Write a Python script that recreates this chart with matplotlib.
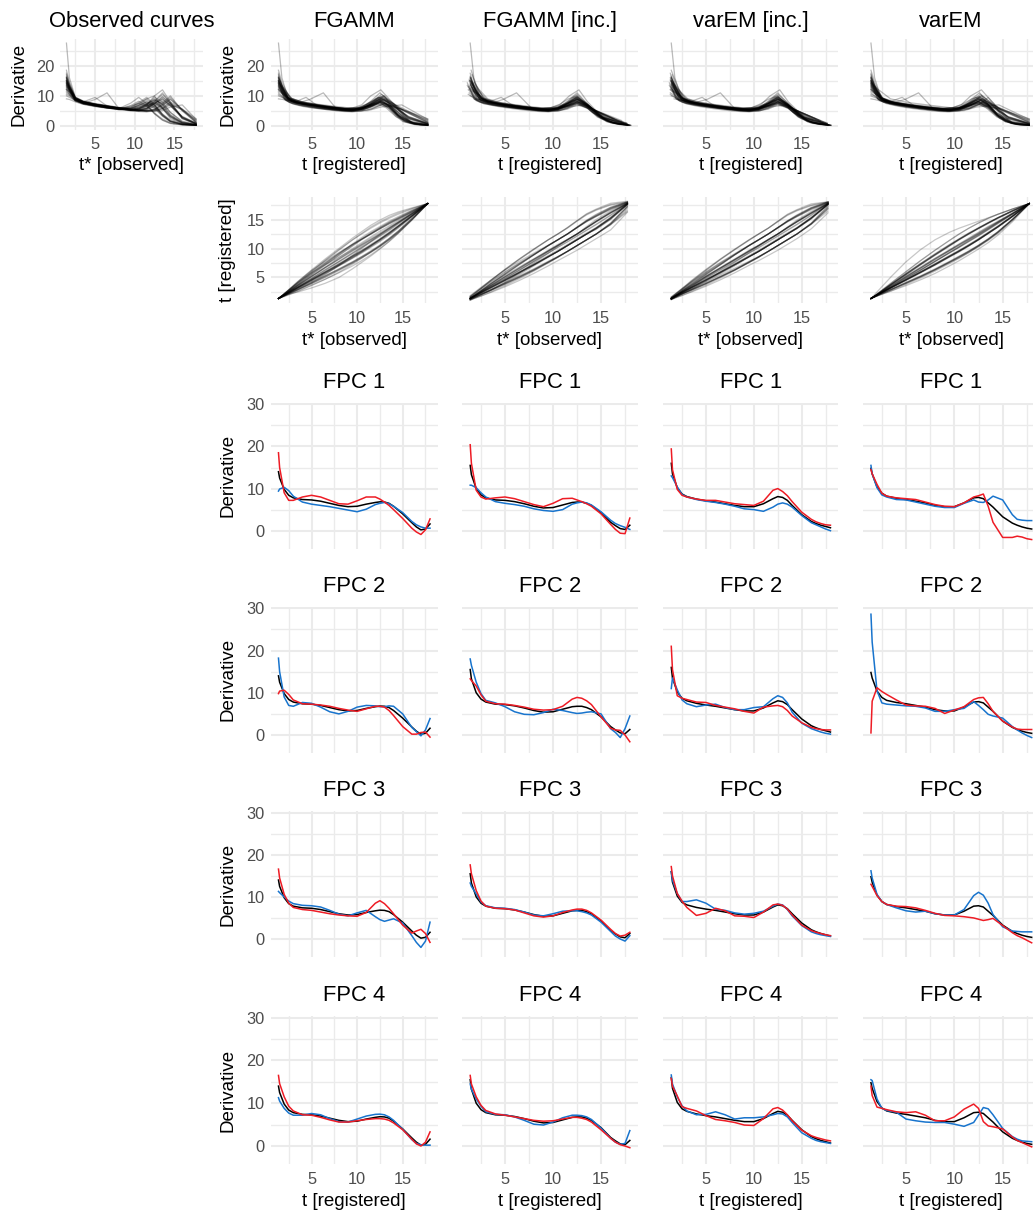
import numpy as np
import matplotlib
matplotlib.use("Agg")
import matplotlib.pyplot as plt

plt.rcParams["font.family"] = ["Liberation Sans", "DejaVu Sans"]

# ---------------------------------------------------------------- data
# observation ages (years) of the growth-velocity curves
obs_age = [1.375, 1.75, 2.5, 3.5, 5.0, 6.5, 8.0, 9.5, 10.5, 11.5, 12.5, 13.5, 14.5, 16.0, 17.75]

# growth velocity (derivative of height) per child
obs_velocity = [
    [16.0, 12.0, 8.8, 7.6, 6.8, 6.2, 5.7, 5.9, 6.8, 8.0, 6.3, 3.5, 1.6, 0.6, 0.3],
    [13.5, 11.5, 8.5, 7.5, 6.6, 6.0, 5.4, 5.5, 6.3, 7.2, 5.8, 3.2, 1.4, 0.5, 0.2],
    [12.0, 10.5, 8.2, 7.2, 6.4, 5.9, 5.6, 6.6, 7.5, 6.6, 4.3, 2.3, 1.1, 0.4, 0.2],
    [15.0, 12.8, 9.0, 7.8, 7.0, 6.3, 5.7, 5.4, 6.2, 7.4, 8.5, 6.0, 3.2, 1.0, 0.4],
    [17.0, 13.5, 9.3, 8.0, 7.2, 6.6, 6.0, 6.2, 7.5, 9.0, 7.0, 3.8, 1.7, 0.6, 0.3],
    [14.0, 11.8, 8.5, 7.5, 8.8, 11.0, 5.8, 5.2, 5.7, 6.5, 7.5, 6.0, 3.0, 0.9, 0.3],
    [14.5, 12.3, 9.0, 7.8, 6.8, 6.0, 5.8, 7.6, 9.5, 7.4, 4.1, 1.9, 0.8, 0.4, 0.2],
    [10.0, 9.5, 8.4, 7.5, 6.8, 6.1, 5.7, 6.0, 7.2, 9.0, 10.0, 5.8, 2.5, 0.8, 0.3],
    [9.0, 8.8, 8.0, 7.2, 6.6, 6.0, 5.4, 5.8, 6.8, 8.0, 6.8, 4.0, 2.0, 0.7, 0.3],
    [16.5, 13.5, 9.2, 8.0, 7.2, 6.6, 6.0, 5.4, 5.3, 5.8, 7.5, 9.5, 7.5, 3.0, 0.8],
    [14.0, 12.2, 8.8, 7.8, 7.0, 6.4, 5.8, 5.2, 5.0, 5.4, 6.8, 8.5, 7.0, 3.0, 0.9],
    [15.5, 12.8, 9.0, 8.0, 7.2, 6.6, 6.0, 5.5, 5.2, 5.0, 5.4, 7.0, 9.0, 5.2, 1.2],
    [27.5, 16.0, 9.5, 8.2, 7.4, 6.8, 6.2, 5.8, 6.0, 7.0, 10.0, 12.0, 8.0, 2.8, 0.7],
    [12.5, 11.3, 8.6, 7.6, 6.8, 6.2, 5.6, 5.4, 5.6, 6.5, 8.5, 7.5, 4.5, 1.6, 0.5],
    [13.0, 11.8, 8.8, 7.8, 7.0, 6.4, 5.9, 5.5, 5.3, 5.1, 5.2, 6.0, 8.0, 5.5, 1.8],
    [15.0, 13.0, 9.4, 8.2, 7.2, 6.5, 5.9, 5.3, 5.2, 5.8, 8.0, 10.5, 7.8, 2.7, 0.6],
    [11.0, 10.3, 8.4, 7.4, 6.6, 6.0, 5.5, 5.0, 4.8, 4.7, 5.0, 5.8, 7.5, 5.2, 2.0],
    [14.5, 12.8, 9.2, 8.0, 9.5, 6.6, 5.9, 5.4, 5.4, 6.0, 7.5, 9.0, 6.8, 2.5, 0.7],
    [16.0, 13.3, 9.2, 8.0, 7.1, 6.4, 5.8, 5.4, 5.6, 7.0, 9.5, 8.0, 4.5, 1.4, 0.4],
    [13.5, 12.0, 8.9, 7.9, 7.1, 6.5, 6.0, 5.5, 5.2, 5.0, 4.9, 5.1, 6.3, 7.0, 2.2],
    [12.8, 11.0, 8.6, 7.4, 6.7, 6.1, 5.6, 5.8, 6.9, 8.5, 6.8, 3.6, 1.5, 0.5, 0.2],
    [15.8, 13.0, 9.1, 7.9, 7.0, 6.4, 5.8, 5.5, 5.9, 6.8, 7.8, 5.8, 3.0, 1.0, 0.4],
    [13.2, 11.8, 8.9, 7.7, 6.9, 6.3, 5.7, 5.1, 5.0, 5.6, 7.4, 9.8, 7.4, 2.6, 0.7],
    [17.5, 14.2, 9.6, 8.3, 7.4, 6.8, 6.1, 5.6, 5.3, 5.1, 5.6, 7.6, 10.0, 5.0, 1.1],
    [11.5, 10.6, 8.5, 7.4, 6.6, 6.0, 5.7, 6.8, 8.2, 6.9, 4.0, 2.0, 0.9, 0.4, 0.2],
    [14.8, 12.6, 9.0, 7.7, 6.9, 6.2, 5.6, 5.3, 5.8, 7.3, 9.0, 7.0, 3.5, 1.1, 0.4],
    [12.0, 11.2, 8.7, 7.7, 6.9, 6.3, 5.8, 5.3, 5.1, 5.3, 6.4, 8.0, 6.6, 3.2, 1.0],
    [14.3, 12.4, 9.0, 7.9, 7.1, 6.5, 5.9, 5.4, 5.1, 5.0, 5.3, 6.6, 8.8, 5.6, 1.5],
    [15.2, 12.8, 9.0, 7.8, 7.0, 6.3, 5.7, 6.3, 7.8, 9.5, 7.2, 3.8, 1.6, 0.6, 0.3],
    [16.2, 13.6, 9.4, 8.1, 7.3, 6.6, 6.0, 5.4, 5.3, 6.0, 8.2, 11.0, 7.6, 2.4, 0.6],
    [10.5, 10.0, 8.4, 7.4, 6.7, 6.1, 5.5, 5.2, 5.5, 6.6, 8.0, 6.4, 3.4, 1.2, 0.5],
    [12.2, 11.4, 8.7, 7.7, 6.9, 6.3, 5.8, 5.3, 5.0, 4.8, 5.0, 5.6, 7.0, 5.6, 2.4],
    [14.2, 12.0, 8.8, 7.6, 6.8, 6.2, 5.6, 5.7, 6.5, 7.6, 6.2, 3.4, 1.5, 0.5, 0.2],
    [13.8, 12.2, 9.0, 7.8, 7.0, 6.4, 5.8, 5.3, 5.2, 5.7, 7.3, 9.0, 6.9, 2.9, 0.8],
    [18.5, 14.5, 9.4, 8.0, 7.2, 6.5, 5.9, 5.5, 5.8, 7.0, 8.8, 7.2, 3.8, 1.2, 0.4],
    [15.0, 12.9, 9.2, 8.0, 7.2, 6.6, 6.0, 5.5, 5.2, 5.0, 5.5, 7.2, 9.5, 5.4, 1.3],
]

# estimated time shifts h(t*) - t* per child, one table per method
shift_fgamm = [
    [0, 0.0, 0.1, 0.3, 0.5, 0.7, 0.8, 0.9, 1.0, 1.0, 1.0, 0.9, 0.7, 0.4, 0],
    [0, 0.0, 0.2, 0.3, 0.6, 0.8, 1.0, 1.1, 1.2, 1.2, 1.1, 1.0, 0.8, 0.5, 0],
    [0, 0.1, 0.3, 0.6, 1.0, 1.4, 1.7, 2.0, 2.1, 2.2, 2.1, 1.9, 1.6, 0.9, 0],
    [0, 0.0, 0.0, 0.1, 0.1, 0.2, 0.2, 0.3, 0.3, 0.3, 0.2, 0.2, 0.1, 0.1, 0],
    [0, 0.0, 0.2, 0.4, 0.7, 0.9, 1.1, 1.3, 1.4, 1.4, 1.3, 1.2, 1.0, 0.6, 0],
    [0, 0.0, 0.0, -0.1, -0.2, -0.2, -0.3, -0.3, -0.3, -0.3, -0.3, -0.3, -0.2, -0.1, 0],
    [0, 0.1, 0.4, 0.8, 1.3, 1.7, 2.0, 2.3, 2.4, 2.5, 2.4, 2.2, 1.8, 1.0, 0],
    [0, 0.0, 0.1, 0.1, 0.2, 0.3, 0.4, 0.5, 0.5, 0.5, 0.5, 0.4, 0.3, 0.2, 0],
    [0, 0.1, 0.4, 0.8, 1.2, 1.3, 1.3, 1.2, 1.1, 1.0, 0.9, 0.8, 0.6, 0.3, 0],
    [0, 0.0, -0.1, -0.3, -0.5, -0.7, -0.9, -1.1, -1.2, -1.2, -1.2, -1.1, -0.9, -0.5, 0],
    [0, 0.0, -0.1, -0.2, -0.4, -0.5, -0.6, -0.7, -0.8, -0.8, -0.8, -0.7, -0.6, -0.3, 0],
    [0, -0.1, -0.3, -0.6, -1.0, -1.4, -1.7, -2.0, -2.1, -2.2, -2.2, -2.0, -1.7, -1.0, 0],
    [0, 0.0, -0.1, -0.2, -0.4, -0.6, -0.8, -0.9, -1.0, -1.0, -1.0, -0.9, -0.7, -0.4, 0],
    [0, 0.0, 0.0, -0.1, -0.2, -0.3, -0.3, -0.4, -0.4, -0.4, -0.4, -0.4, -0.3, -0.2, 0],
    [0, -0.1, -0.4, -0.8, -1.3, -1.8, -2.2, -2.5, -2.6, -2.6, -2.5, -2.3, -1.9, -1.1, 0],
    [0, 0.0, -0.1, -0.2, -0.4, -0.6, -0.7, -0.8, -0.9, -0.9, -0.9, -0.8, -0.7, -0.4, 0],
    [0, -0.1, -0.2, -0.5, -0.9, -1.2, -1.5, -1.8, -1.9, -2.0, -2.0, -1.8, -1.5, -0.8, 0],
    [0, 0.0, -0.2, -0.3, -0.6, -0.8, -1.0, -1.2, -1.3, -1.3, -1.3, -1.2, -1.0, -0.5, 0],
    [0, 0.0, 0.0, 0.0, -0.1, -0.1, -0.2, -0.2, -0.2, -0.2, -0.2, -0.2, -0.1, -0.1, 0],
    [0, -0.1, -0.4, -1.0, -1.8, -2.5, -3.0, -3.0, -2.9, -2.8, -2.6, -2.3, -1.9, -1.1, 0],
    [0, 0.1, 0.3, 0.5, 0.8, 1.0, 1.1, 1.2, 1.1, 1.0, 0.9, 0.8, 0.6, 0.3, 0],
    [0, 0.1, 0.3, 0.6, 0.8, 0.7, 0.5, 0.3, 0.2, 0.1, 0.0, 0.0, 0.0, 0.0, 0],
    [0, 0.0, -0.1, -0.3, -0.5, -0.7, -0.9, -1.0, -1.1, -1.1, -1.0, -0.9, -0.7, -0.4, 0],
    [0, -0.1, -0.3, -0.6, -1.0, -1.3, -1.6, -1.8, -1.9, -1.9, -1.9, -1.8, -1.6, -0.9, 0],
    [0, 0.1, 0.3, 0.7, 1.1, 1.5, 1.8, 2.0, 2.0, 2.0, 1.9, 1.7, 1.4, 0.8, 0],
    [0, 0.0, 0.0, 0.1, 0.2, 0.2, 0.2, 0.1, 0.1, 0.0, 0.0, 0.0, 0.0, 0.0, 0],
    [0, 0.0, -0.2, -0.4, -0.7, -0.9, -1.0, -1.1, -1.1, -1.0, -1.0, -0.9, -0.7, -0.4, 0],
    [0, -0.2, -0.5, -0.9, -1.4, -1.8, -2.1, -2.2, -2.2, -2.1, -2.0, -1.8, -1.5, -0.8, 0],
    [0, 0.0, 0.1, 0.2, 0.4, 0.6, 0.8, 1.0, 1.1, 1.1, 1.1, 1.0, 0.8, 0.5, 0],
    [0, 0.0, -0.1, -0.2, -0.3, -0.5, -0.7, -0.8, -0.9, -1.0, -1.0, -1.0, -0.8, -0.5, 0],
    [0, -0.1, -0.3, -0.6, -0.9, -1.0, -0.9, -0.7, -0.5, -0.3, -0.1, 0.0, 0.0, 0.0, 0],
    [0, -0.1, -0.2, -0.4, -0.8, -1.2, -1.6, -1.9, -2.0, -2.1, -2.1, -2.0, -1.8, -1.1, 0],
    [0, 0.1, 0.3, 0.6, 0.9, 1.1, 1.2, 1.2, 1.1, 1.0, 0.9, 0.7, 0.5, 0.3, 0],
    [0, 0.0, -0.1, -0.2, -0.4, -0.6, -0.8, -0.9, -1.0, -1.0, -0.9, -0.8, -0.6, -0.3, 0],
    [0, 0.0, 0.1, 0.2, 0.2, 0.2, 0.1, 0.1, 0.0, 0.0, -0.1, -0.1, -0.1, 0.0, 0],
    [0, -0.1, -0.3, -0.6, -1.1, -1.5, -1.8, -2.0, -2.1, -2.1, -2.1, -2.0, -1.7, -1.0, 0],
]

shift_fgamm_inc = [
    [0.1, 0.1, 0.2, 0.4, 0.6, 0.8, 0.9, 1.0, 1.0, 1.0, 1.2, 1.3, 1.2, 1.0, 0.2],
    [0.0, 0.1, 0.2, 0.4, 0.6, 0.8, 0.9, 1.0, 1.0, 1.0, 1.1, 1.2, 1.1, 0.9, 0.2],
    [0.3, 0.4, 0.6, 0.9, 1.3, 1.6, 1.8, 2.0, 2.0, 2.1, 2.3, 2.4, 2.2, 1.6, 0.3],
    [0.0, 0.0, 0.1, 0.1, 0.1, 0.1, 0.1, 0.1, 0.1, 0.0, 0.0, 0.1, 0.2, 0.2, 0.0],
    [0.2, 0.2, 0.3, 0.5, 0.7, 0.8, 0.9, 1.0, 1.0, 1.0, 1.1, 1.2, 1.1, 0.8, 0.1],
    [0.0, 0.0, 0.0, 0.0, -0.2, -0.3, -0.2, 0.0, 0.0, 0.0, 0.0, 0.1, 0.1, 0.1, 0.0],
    [0.4, 0.5, 0.7, 1.0, 1.4, 1.7, 1.9, 2.0, 2.0, 2.0, 2.2, 2.3, 2.1, 1.5, 0.2],
    [0.0, 0.0, 0.0, 0.1, 0.1, 0.2, 0.2, 0.2, 0.2, 0.1, 0.0, 0.3, 0.5, 0.5, 0.1],
    [0.5, 0.6, 0.8, 1.0, 1.3, 1.3, 1.2, 1.1, 1.0, 1.0, 1.1, 1.1, 1.0, 0.7, 0.1],
    [0.0, -0.1, -0.2, -0.3, -0.5, -0.7, -0.8, -0.9, -1.0, -1.0, -1.0, -1.0, -1.2, -1.0, -0.2],
    [0.1, 0.0, -0.1, -0.2, -0.4, -0.6, -0.8, -0.9, -1.0, -1.0, -1.0, -1.0, -1.1, -0.9, -0.1],
    [-0.1, -0.2, -0.4, -0.7, -1.1, -1.4, -1.7, -1.9, -2.0, -2.0, -2.0, -2.0, -2.0, -1.7, -0.4],
    [0.0, 0.0, -0.1, -0.2, -0.4, -0.5, -0.6, -0.7, -0.8, -0.8, -0.8, -0.8, -0.9, -0.8, -0.2],
    [0.0, 0.0, 0.0, -0.1, -0.2, -0.2, -0.3, -0.3, -0.3, -0.4, -0.4, -0.4, -0.4, -0.3, -0.1],
    [-0.2, -0.3, -0.5, -0.8, -1.2, -1.5, -1.7, -1.8, -1.9, -2.0, -2.0, -2.0, -2.0, -1.8, -0.6],
    [0.0, 0.0, -0.1, -0.3, -0.5, -0.6, -0.8, -0.9, -1.0, -1.0, -1.0, -1.0, -1.1, -0.9, -0.2],
    [-0.1, -0.2, -0.4, -0.7, -1.0, -1.3, -1.6, -1.8, -1.9, -2.0, -2.0, -2.0, -2.0, -1.8, -1.2],
    [0.1, 0.0, -0.1, -0.2, -0.4, -0.6, -0.8, -0.9, -1.0, -1.0, -1.0, -1.0, -1.0, -0.8, -0.1],
    [0.0, 0.0, 0.0, 0.0, -0.1, -0.2, -0.2, -0.3, -0.3, -0.3, -0.3, -0.3, -0.3, -0.2, 0.0],
    [-0.3, -0.4, -0.7, -1.1, -1.6, -2.0, -2.3, -2.5, -2.6, -2.7, -2.8, -2.8, -2.8, -2.8, -1.5],
    [0.2, 0.3, 0.5, 0.7, 0.9, 1.0, 1.0, 1.0, 1.0, 1.0, 1.2, 1.4, 1.4, 1.1, 0.3],
    [0.0, 0.1, 0.2, 0.4, 0.4, 0.3, 0.2, 0.1, 0.0, 0.0, 0.0, 0.1, 0.2, 0.3, 0.1],
    [-0.1, -0.1, -0.2, -0.4, -0.6, -0.8, -0.9, -1.0, -1.0, -1.0, -1.0, -1.0, -1.0, -0.7, 0.0],
    [0.0, -0.1, -0.3, -0.6, -1.0, -1.4, -1.7, -1.9, -2.0, -2.0, -2.0, -2.0, -2.0, -1.6, -0.5],
    [0.3, 0.4, 0.6, 1.0, 1.4, 1.7, 1.9, 2.0, 2.0, 2.1, 2.3, 2.5, 2.3, 1.8, 0.4],
    [0.1, 0.1, 0.1, 0.1, 0.1, 0.0, 0.0, 0.0, 0.0, 0.0, 0.0, 0.1, 0.2, 0.2, 0.0],
    [-0.2, -0.3, -0.5, -0.7, -0.9, -1.0, -1.0, -1.0, -1.0, -1.0, -1.0, -1.0, -0.9, -0.6, -0.1],
    [-0.3, -0.4, -0.7, -1.0, -1.4, -1.7, -1.9, -2.0, -2.0, -2.0, -2.0, -2.0, -2.0, -1.9, -0.9],
    [0.0, 0.0, 0.1, 0.3, 0.5, 0.7, 0.9, 1.0, 1.0, 1.0, 1.1, 1.3, 1.3, 1.1, 0.3],
    [0.0, 0.0, -0.1, -0.2, -0.4, -0.6, -0.8, -0.9, -1.0, -1.0, -1.0, -1.0, -1.0, -0.8, -0.1],
    [-0.2, -0.3, -0.5, -0.7, -0.8, -0.7, -0.5, -0.3, -0.1, 0.0, 0.0, 0.1, 0.2, 0.2, 0.0],
    [-0.1, -0.2, -0.4, -0.6, -0.9, -1.2, -1.5, -1.7, -1.9, -2.0, -2.0, -2.0, -2.0, -1.9, -1.4],
    [0.3, 0.4, 0.6, 0.8, 1.0, 1.0, 1.0, 1.0, 1.0, 1.0, 1.1, 1.2, 1.1, 0.9, 0.2],
    [0.0, -0.1, -0.2, -0.3, -0.5, -0.7, -0.8, -0.9, -1.0, -1.0, -1.0, -1.0, -1.0, -0.7, 0.0],
    [0.1, 0.1, 0.2, 0.2, 0.2, 0.1, 0.1, 0.0, 0.0, 0.0, 0.0, 0.0, 0.1, 0.1, 0.0],
    [-0.1, -0.2, -0.4, -0.7, -1.1, -1.5, -1.8, -1.9, -2.0, -2.0, -2.0, -2.0, -2.0, -1.7, -0.6],
]

shift_varem_inc = [
    [-0.1, 0.0, 0.2, 0.4, 0.6, 0.7, 0.9, 1.0, 1.0, 1.0, 1.1, 1.2, 1.2, 1.0, 0.3],
    [0.0, 0.1, 0.2, 0.3, 0.5, 0.7, 0.9, 1.0, 1.0, 1.0, 1.1, 1.2, 1.1, 0.9, 0.2],
    [0.1, 0.2, 0.4, 0.8, 1.2, 1.6, 1.8, 1.9, 2.0, 2.0, 2.2, 2.3, 2.1, 1.5, 0.3],
    [0.0, 0.0, 0.0, 0.0, 0.1, 0.1, 0.1, 0.1, 0.0, 0.0, 0.0, 0.1, 0.1, 0.1, 0.0],
    [0.1, 0.1, 0.3, 0.5, 0.7, 0.8, 0.9, 1.0, 1.0, 1.0, 1.1, 1.1, 1.0, 0.8, 0.1],
    [0.0, 0.0, 0.0, 0.0, 0.1, 0.0, 0.0, 0.0, 0.0, 0.0, 0.0, 0.1, 0.1, 0.0, 0.0],
    [0.2, 0.3, 0.6, 1.0, 1.4, 1.7, 1.9, 2.0, 2.0, 2.0, 2.1, 2.2, 2.0, 1.4, 0.2],
    [0.0, 0.0, 0.1, 0.1, 0.2, 0.2, 0.2, 0.2, 0.1, 0.1, 0.0, 0.2, 0.4, 0.4, 0.1],
    [0.3, 0.4, 0.6, 0.8, 1.0, 1.1, 1.1, 1.1, 1.0, 1.0, 1.0, 1.1, 1.0, 0.7, 0.1],
    [0.0, 0.0, -0.1, -0.3, -0.5, -0.7, -0.8, -0.9, -1.0, -1.0, -1.0, -1.0, -1.1, -0.9, -0.2],
    [0.0, 0.0, -0.1, -0.2, -0.4, -0.6, -0.8, -0.9, -1.0, -1.0, -1.0, -1.0, -1.0, -0.8, -0.1],
    [-0.1, -0.1, -0.3, -0.6, -1.0, -1.4, -1.7, -1.9, -2.0, -2.0, -2.0, -2.0, -2.0, -1.6, -0.3],
    [0.0, 0.0, -0.1, -0.2, -0.3, -0.5, -0.6, -0.7, -0.8, -0.8, -0.8, -0.8, -0.9, -0.7, -0.1],
    [0.0, 0.0, 0.0, -0.1, -0.1, -0.2, -0.3, -0.3, -0.4, -0.4, -0.4, -0.4, -0.4, -0.3, 0.0],
    [-0.1, -0.2, -0.4, -0.7, -1.1, -1.4, -1.7, -1.8, -1.9, -2.0, -2.0, -2.0, -2.0, -1.8, -0.8],
    [0.0, 0.0, -0.1, -0.2, -0.4, -0.6, -0.8, -0.9, -1.0, -1.0, -1.0, -1.0, -1.0, -0.8, -0.2],
    [-0.1, -0.1, -0.3, -0.6, -1.0, -1.3, -1.6, -1.8, -1.9, -2.0, -2.0, -2.0, -2.0, -1.7, -1.0],
    [0.0, 0.0, -0.1, -0.2, -0.4, -0.6, -0.8, -0.9, -1.0, -1.0, -1.0, -1.0, -1.0, -0.8, -0.1],
    [0.0, 0.0, 0.0, -0.1, -0.1, -0.2, -0.2, -0.3, -0.3, -0.3, -0.3, -0.3, -0.3, -0.2, 0.0],
    [-0.2, -0.3, -0.6, -1.0, -1.5, -1.9, -2.2, -2.4, -2.6, -2.7, -2.8, -2.8, -2.8, -2.6, -1.6],
    [0.1, 0.2, 0.4, 0.6, 0.8, 0.9, 1.0, 1.0, 1.0, 1.0, 1.1, 1.3, 1.3, 1.1, 0.3],
    [0.0, 0.0, 0.1, 0.2, 0.3, 0.2, 0.1, 0.1, 0.0, 0.0, 0.0, 0.1, 0.2, 0.2, 0.1],
    [0.0, -0.1, -0.2, -0.3, -0.5, -0.7, -0.8, -0.9, -1.0, -1.0, -1.0, -1.0, -1.0, -0.7, -0.1],
    [-0.1, -0.2, -0.4, -0.7, -1.1, -1.4, -1.7, -1.9, -2.0, -2.0, -2.0, -2.0, -2.0, -1.7, -0.6],
    [0.2, 0.3, 0.5, 0.9, 1.3, 1.6, 1.8, 2.0, 2.0, 2.0, 2.2, 2.4, 2.2, 1.7, 0.3],
    [0.0, 0.0, 0.1, 0.1, 0.1, 0.1, 0.0, 0.0, 0.0, 0.0, 0.0, 0.1, 0.1, 0.1, 0.0],
    [-0.1, -0.2, -0.3, -0.5, -0.7, -0.9, -1.0, -1.0, -1.0, -1.0, -1.0, -1.0, -0.9, -0.6, -0.1],
    [-0.2, -0.3, -0.6, -0.9, -1.3, -1.6, -1.8, -1.9, -2.0, -2.0, -2.0, -2.0, -2.0, -1.8, -0.8],
    [0.1, 0.1, 0.2, 0.3, 0.5, 0.7, 0.9, 1.0, 1.0, 1.0, 1.1, 1.2, 1.2, 1.0, 0.2],
    [0.0, 0.0, -0.1, -0.2, -0.4, -0.6, -0.7, -0.9, -1.0, -1.0, -1.0, -1.0, -1.0, -0.8, -0.1],
    [-0.1, -0.2, -0.3, -0.5, -0.6, -0.5, -0.4, -0.2, -0.1, 0.0, 0.0, 0.1, 0.2, 0.2, 0.0],
    [-0.1, -0.2, -0.3, -0.5, -0.8, -1.1, -1.4, -1.7, -1.9, -2.0, -2.0, -2.0, -2.0, -1.8, -1.3],
    [0.2, 0.3, 0.5, 0.7, 0.9, 1.0, 1.0, 1.0, 1.0, 1.0, 1.1, 1.2, 1.1, 0.9, 0.2],
    [0.0, 0.0, -0.1, -0.3, -0.5, -0.7, -0.8, -0.9, -1.0, -1.0, -1.0, -1.0, -1.0, -0.7, -0.1],
    [0.0, 0.1, 0.1, 0.2, 0.2, 0.1, 0.1, 0.0, 0.0, 0.0, 0.0, 0.0, 0.1, 0.1, 0.0],
    [-0.1, -0.1, -0.3, -0.6, -1.0, -1.4, -1.7, -1.9, -2.0, -2.0, -2.0, -2.0, -2.0, -1.7, -0.5],
]

shift_varem = [
    [0, 0.0, 0.1, 0.3, 0.5, 0.7, 0.8, 0.9, 1.0, 1.0, 1.0, 0.9, 0.8, 0.5, 0],
    [0, 0.0, 0.2, 0.4, 0.6, 0.8, 1.0, 1.1, 1.1, 1.1, 1.0, 0.9, 0.8, 0.5, 0],
    [0, 0.1, 0.3, 0.6, 1.0, 1.4, 1.7, 1.9, 2.0, 2.0, 1.9, 1.7, 1.4, 0.8, 0],
    [0, 0.0, 0.0, 0.1, 0.1, 0.1, 0.2, 0.2, 0.2, 0.2, 0.2, 0.2, 0.1, 0.1, 0],
    [0, 0.0, 0.1, 0.3, 0.5, 0.7, 0.9, 1.0, 1.1, 1.1, 1.0, 0.9, 0.8, 0.5, 0],
    [0, 0.0, 0.0, -0.1, -0.1, -0.2, -0.2, -0.2, -0.2, -0.2, -0.2, -0.2, -0.1, -0.1, 0],
    [0, 0.3, 0.9, 1.7, 2.7, 3.3, 3.5, 3.3, 3.0, 2.6, 2.2, 1.8, 1.4, 0.8, 0],
    [0, 0.0, 0.0, 0.1, 0.2, 0.2, 0.3, 0.3, 0.3, 0.3, 0.3, 0.3, 0.2, 0.1, 0],
    [0, 0.0, 0.2, 0.4, 0.6, 0.8, 0.9, 1.0, 1.0, 1.0, 0.9, 0.8, 0.7, 0.4, 0],
    [0, 0.0, -0.1, -0.2, -0.4, -0.6, -0.8, -0.9, -1.0, -1.0, -1.0, -0.9, -0.8, -0.5, 0],
    [0, 0.0, -0.1, -0.2, -0.4, -0.5, -0.7, -0.8, -0.9, -0.9, -0.9, -0.8, -0.7, -0.4, 0],
    [0, -0.1, -0.2, -0.5, -0.8, -1.2, -1.5, -1.7, -1.8, -1.9, -1.9, -1.8, -1.6, -1.0, 0],
    [0, 0.0, -0.1, -0.2, -0.3, -0.5, -0.6, -0.7, -0.8, -0.8, -0.8, -0.7, -0.6, -0.4, 0],
    [0, 0.0, 0.0, -0.1, -0.1, -0.2, -0.2, -0.3, -0.3, -0.3, -0.3, -0.3, -0.2, -0.1, 0],
    [0, -0.1, -0.2, -0.5, -0.9, -1.3, -1.6, -1.8, -1.9, -2.0, -2.0, -1.9, -1.6, -1.0, 0],
    [0, 0.0, -0.1, -0.2, -0.4, -0.6, -0.7, -0.8, -0.9, -0.9, -0.9, -0.8, -0.7, -0.4, 0],
    [0, -0.1, -0.2, -0.5, -0.9, -1.3, -1.6, -1.8, -1.9, -2.0, -2.0, -1.9, -1.7, -1.0, 0],
    [0, 0.0, -0.1, -0.2, -0.4, -0.6, -0.8, -0.9, -1.0, -1.0, -1.0, -0.9, -0.8, -0.5, 0],
    [0, 0.0, 0.0, -0.1, -0.1, -0.2, -0.2, -0.2, -0.3, -0.3, -0.3, -0.2, -0.2, -0.1, 0],
    [0, -0.1, -0.4, -0.8, -1.4, -1.9, -2.3, -2.5, -2.6, -2.6, -2.6, -2.5, -2.2, -1.4, 0],
    [0, 0.0, 0.2, 0.4, 0.7, 0.9, 1.1, 1.2, 1.2, 1.2, 1.1, 1.0, 0.8, 0.5, 0],
    [0, 0.0, 0.1, 0.2, 0.3, 0.3, 0.3, 0.2, 0.2, 0.1, 0.1, 0.1, 0.1, 0.0, 0],
    [0, 0.0, -0.1, -0.3, -0.5, -0.7, -0.9, -1.0, -1.1, -1.1, -1.0, -0.9, -0.8, -0.5, 0],
    [0, -0.1, -0.3, -0.6, -1.0, -1.4, -1.7, -1.9, -2.0, -2.0, -2.0, -1.9, -1.7, -1.0, 0],
    [0, 0.1, 0.3, 0.6, 1.0, 1.4, 1.7, 1.9, 2.0, 2.0, 1.9, 1.7, 1.4, 0.8, 0],
    [0, 0.0, 0.0, 0.0, 0.1, 0.1, 0.1, 0.1, 0.1, 0.1, 0.0, 0.0, 0.0, 0.0, 0],
    [0, 0.0, -0.1, -0.3, -0.5, -0.7, -0.8, -0.9, -1.0, -1.0, -1.0, -0.9, -0.8, -0.5, 0],
    [0, -0.1, -0.4, -0.8, -1.2, -1.6, -1.9, -2.1, -2.2, -2.2, -2.1, -2.0, -1.7, -1.0, 0],
    [0, 0.0, 0.1, 0.3, 0.5, 0.7, 0.9, 1.0, 1.1, 1.1, 1.0, 0.9, 0.8, 0.5, 0],
    [0, 0.0, -0.1, -0.2, -0.4, -0.6, -0.7, -0.8, -0.9, -1.0, -1.0, -0.9, -0.8, -0.5, 0],
    [0, 0.0, -0.1, -0.2, -0.3, -0.3, -0.3, -0.2, -0.2, -0.1, -0.1, -0.1, 0.0, 0.0, 0],
    [0, -0.1, -0.3, -0.6, -1.0, -1.4, -1.7, -1.9, -2.1, -2.2, -2.2, -2.1, -1.9, -1.2, 0],
    [0, 0.1, 0.2, 0.4, 0.7, 0.9, 1.0, 1.1, 1.1, 1.0, 1.0, 0.9, 0.7, 0.4, 0],
    [0, 0.0, -0.1, -0.2, -0.4, -0.6, -0.8, -0.9, -0.9, -1.0, -0.9, -0.8, -0.7, -0.4, 0],
    [0, 0.0, 0.0, 0.1, 0.1, 0.1, 0.1, 0.1, 0.0, 0.0, 0.0, 0.0, 0.0, 0.0, 0],
    [0, -0.1, -0.3, -0.6, -1.0, -1.4, -1.7, -1.9, -2.0, -2.1, -2.1, -2.0, -1.8, -1.1, 0],
]

# registered time grid of the mean / FPC effect curves
fpc_age = [1.375, 1.5, 2, 2.5, 3, 4, 5, 6, 7, 8, 9, 10, 11, 12, 12.5, 13, 13.5, 14,
           15, 16, 16.5, 17, 17.5, 18]

mean_fgamm = [14.0, 12.5, 9.8, 8.4, 7.8, 7.4, 7.3, 7.0, 6.5, 6.0, 5.7, 5.8, 6.3, 6.7, 6.85, 6.8, 6.5, 5.8, 4.0, 1.9, 0.9, 0.2, 0.4, 1.6]
plus_fgamm = [
    [18.5, 15.0, 9.0, 7.2, 7.2, 8.0, 8.4, 8.0, 7.2, 6.4, 6.3, 7.1, 8.0, 8.0, 7.5, 6.8, 6.0, 5.0, 2.9, 0.6, -0.3, -0.9, 0.2, 2.8],
    [9.8, 10.4, 10.6, 9.6, 8.3, 7.4, 7.3, 7.1, 6.8, 6.3, 5.9, 5.6, 6.2, 6.8, 6.8, 6.6, 5.8, 4.6, 2.0, 0.2, 0.2, 0.6, 0.7, -0.5],
    [16.6, 14.5, 10.6, 8.5, 7.5, 7.0, 6.8, 6.4, 6.0, 5.7, 5.5, 5.4, 6.3, 8.5, 9.1, 8.4, 7.3, 6.0, 3.3, 1.4, 1.9, 2.3, 1.3, -0.8],
    [16.5, 14.6, 11.5, 9.3, 8.2, 7.3, 7.2, 6.7, 6.1, 5.6, 5.6, 5.9, 6.2, 6.4, 6.4, 6.3, 6.0, 5.4, 3.8, 1.6, 0.5, 0.0, 0.9, 3.3],
]
minus_fgamm = [
    [9.4, 9.9, 10.3, 9.5, 8.2, 6.8, 6.3, 6.0, 5.7, 5.3, 4.9, 4.5, 5.1, 6.2, 6.5, 6.7, 6.4, 5.8, 4.3, 2.2, 1.4, 0.9, 0.6, 0.6],
    [18.2, 15.0, 9.0, 7.0, 6.8, 7.7, 7.5, 6.6, 5.5, 5.0, 5.6, 6.6, 7.0, 6.9, 6.7, 6.7, 6.9, 6.8, 5.0, 1.8, 0.8, -0.2, 1.2, 3.9],
    [11.3, 11.0, 10.0, 9.0, 8.4, 8.0, 7.9, 7.6, 6.8, 5.9, 5.5, 6.2, 6.8, 5.3, 4.6, 4.2, 4.5, 4.8, 3.8, 0.8, -0.8, -2.0, -0.5, 4.0],
    [11.3, 10.5, 8.8, 7.7, 7.2, 7.2, 7.6, 7.3, 6.4, 5.7, 5.6, 6.3, 7.0, 7.4, 7.45, 7.3, 6.8, 6.0, 3.9, 1.5, 0.6, 0.3, 0.2, 0.2],
]

mean_fgamm_inc = [15.5, 13.3, 10.0, 8.5, 7.8, 7.3, 7.2, 6.9, 6.4, 5.8, 5.4, 5.5, 6.1, 6.7, 6.8, 6.8, 6.5, 6.0, 4.3, 2.0, 1.2, 0.5, 0.3, 1.3]
plus_fgamm_inc = [
    [20.4, 16.0, 9.6, 8.0, 7.5, 7.8, 8.0, 7.6, 6.9, 6.2, 5.7, 6.5, 7.6, 7.7, 7.3, 6.9, 6.4, 5.8, 4.0, 1.5, 0.3, -0.6, -0.7, 3.0],
    [13.3, 12.9, 11.6, 9.5, 8.0, 7.4, 7.3, 7.0, 6.6, 6.1, 5.9, 6.0, 6.8, 8.5, 8.9, 8.7, 8.1, 7.2, 4.3, 1.6, 1.2, 1.1, 0.0, -1.6],
    [17.6, 15.5, 11.5, 9.0, 7.8, 7.3, 7.2, 6.9, 6.2, 5.5, 5.2, 5.5, 6.3, 6.9, 7.1, 7.1, 6.8, 6.2, 4.5, 2.3, 1.3, 0.7, 0.9, 1.6],
    [16.5, 14.5, 11.5, 9.5, 8.3, 7.5, 7.2, 6.8, 6.4, 6.0, 5.8, 5.9, 6.3, 6.7, 6.7, 6.5, 6.2, 5.6, 3.8, 1.8, 0.9, 0.3, 0.0, -0.4],
]
minus_fgamm_inc = [
    [10.8, 10.8, 10.2, 9.0, 8.0, 6.9, 6.5, 6.2, 5.8, 5.2, 4.8, 4.6, 5.0, 6.3, 6.6, 6.8, 6.6, 6.1, 4.5, 2.5, 1.7, 1.2, 0.8, 0.3],
    [18.0, 16.5, 12.5, 9.8, 8.2, 7.6, 6.7, 5.5, 4.9, 4.8, 5.3, 6.1, 5.8, 5.3, 5.1, 5.2, 5.4, 5.5, 5.0, 1.5, 0.6, -0.6, 1.5, 4.5],
    [13.3, 12.5, 10.7, 8.8, 7.9, 7.4, 7.3, 7.0, 6.4, 5.7, 5.5, 6.0, 6.6, 6.7, 6.7, 6.5, 6.2, 5.7, 4.0, 1.8, 0.7, 0.0, -0.5, 0.8],
    [14.5, 13.3, 11.0, 9.3, 8.0, 7.4, 7.3, 6.8, 6.0, 5.1, 4.9, 5.6, 6.6, 7.2, 7.2, 7.1, 6.8, 6.2, 4.2, 1.8, 0.9, 0.4, 0.6, 3.6],
]

mean_varem_inc = [16.0, 13.5, 10.2, 8.7, 8.1, 7.5, 7.1, 6.8, 6.4, 6.0, 5.7, 5.7, 6.4, 7.6, 8.1, 7.9, 7.2, 6.0, 3.8, 2.2, 1.7, 1.3, 1.0, 0.7]
plus_varem_inc = [
    [19.4, 14.5, 9.8, 8.4, 8.0, 7.5, 7.2, 7.2, 6.8, 6.4, 6.2, 6.0, 7.0, 9.6, 10.0, 9.3, 8.3, 6.9, 4.4, 2.7, 2.1, 1.7, 1.4, 1.3],
    [21.0, 15.5, 9.3, 8.7, 8.4, 7.8, 7.7, 7.0, 6.6, 6.2, 5.6, 5.2, 6.6, 6.9, 7.0, 6.7, 5.8, 4.5, 2.9, 1.8, 1.5, 1.3, 1.2, 1.2],
    [17.2, 15.0, 10.8, 9.0, 7.5, 5.6, 6.1, 7.3, 6.7, 5.5, 5.4, 5.1, 6.4, 8.1, 8.3, 8.0, 7.1, 5.7, 3.3, 2.0, 1.6, 1.3, 1.0, 0.8],
    [15.8, 14.0, 11.7, 9.2, 8.8, 8.2, 7.1, 6.2, 5.9, 5.5, 4.9, 4.8, 6.4, 8.7, 9.0, 8.4, 7.3, 5.9, 3.7, 2.4, 2.0, 1.7, 1.4, 1.2],
]
minus_varem_inc = [
    [13.0, 12.6, 10.4, 8.6, 8.0, 7.4, 7.0, 6.7, 6.3, 5.8, 5.2, 5.0, 4.6, 5.6, 6.3, 6.6, 6.3, 5.6, 3.6, 1.9, 1.4, 0.9, 0.4, 0.0],
    [11.0, 13.5, 10.7, 8.3, 7.4, 6.7, 7.1, 7.3, 6.5, 6.0, 6.0, 6.5, 6.7, 8.6, 9.3, 8.9, 7.6, 5.4, 2.8, 1.5, 1.1, 0.7, 0.4, 0.2],
    [16.0, 14.0, 10.8, 8.9, 8.9, 9.3, 8.5, 7.1, 6.8, 6.2, 5.9, 6.1, 6.6, 7.8, 8.3, 8.1, 7.0, 5.5, 3.2, 1.7, 1.3, 1.0, 0.8, 0.6],
    [16.6, 14.5, 11.5, 9.4, 8.2, 7.3, 7.4, 8.0, 7.3, 6.3, 6.6, 6.6, 6.8, 7.3, 7.6, 7.5, 6.8, 5.5, 3.1, 1.8, 1.3, 1.0, 0.8, 0.6],
]

mean_varem = [14.8, 13.5, 10.4, 8.9, 8.2, 7.7, 7.4, 7.0, 6.6, 6.0, 5.7, 5.7, 6.6, 7.8, 7.9, 7.6, 6.6, 5.6, 3.3, 1.8, 1.3, 0.9, 0.6, 0.4]
plus_varem = [
    [14.5, 13.5, 11.0, 8.9, 8.2, 7.8, 7.6, 7.4, 6.8, 6.2, 5.8, 5.7, 6.6, 8.0, 8.3, 8.7, 5.8, 2.0, -1.6, -1.6, -1.3, -1.5, -1.9, -2.1],
    [0.5, 8.0, 11.2, 10.3, 9.6, 8.3, 7.1, 6.9, 6.8, 6.3, 5.1, 5.9, 6.7, 8.4, 8.8, 8.9, 7.4, 5.6, 3.3, 1.9, 1.4, 1.3, 1.3, 1.3],
    [13.0, 12.5, 10.3, 8.9, 8.2, 7.8, 7.7, 7.4, 6.8, 6.1, 5.6, 5.5, 5.3, 5.0, 4.7, 4.4, 4.6, 4.9, 3.2, 1.5, 0.8, 0.3, -0.3, -0.9],
    [14.0, 11.8, 9.1, 8.8, 8.5, 8.0, 7.8, 8.0, 7.2, 5.9, 5.9, 6.8, 8.6, 9.8, 8.8, 5.7, 4.7, 4.5, 4.0, 2.1, 1.3, 0.8, 0.3, -0.2],
]
minus_varem = [
    [15.5, 13.5, 10.2, 8.5, 8.0, 7.4, 7.3, 6.8, 6.3, 5.8, 5.5, 5.5, 6.5, 7.3, 6.8, 6.7, 7.3, 8.2, 7.3, 3.8, 2.7, 2.5, 2.4, 2.4],
    [28.6, 22.0, 10.5, 7.6, 7.3, 7.1, 6.9, 6.8, 6.4, 5.6, 5.6, 6.0, 6.3, 7.9, 7.0, 6.0, 4.9, 4.5, 4.0, 2.0, 1.2, 0.5, -0.1, -0.6],
    [16.2, 14.5, 10.6, 8.9, 8.2, 7.4, 6.7, 6.4, 6.6, 6.0, 5.7, 5.7, 7.0, 10.3, 11.1, 10.4, 8.5, 5.8, 2.9, 1.9, 1.8, 1.7, 1.7, 1.7],
    [15.5, 15.3, 11.0, 8.8, 8.3, 7.9, 6.3, 5.9, 5.6, 5.5, 5.5, 5.1, 4.6, 5.5, 7.2, 9.0, 8.7, 7.3, 4.1, 2.2, 1.6, 1.2, 1.1, 1.0],
]

method_names = ["FGAMM", "FGAMM [inc.]", "varEM [inc.]", "varEM"]
method_shifts = [shift_fgamm, shift_fgamm_inc, shift_varem_inc, shift_varem]
method_means = [mean_fgamm, mean_fgamm_inc, mean_varem_inc, mean_varem]
method_plus = [plus_fgamm, plus_fgamm_inc, plus_varem_inc, plus_varem]
method_minus = [minus_fgamm, minus_fgamm_inc, minus_varem_inc, minus_varem]

# ---------------------------------------------------------------- layout
W, H = 1033, 1215
fig = plt.figure(figsize=(W / 100, H / 100), dpi=100)
fig.patch.set_facecolor("white")

GRID = "#EBEBEB"
AXTXT = "#4D4D4D"
TITLE_FS = 15.8
LABEL_FS = 13.5
TICK_FS = 11.8
RED = "#EE1C25"
BLUE = "#1874CD"
CURVE_ALPHA = 0.27

COLS = [(60, 202.6), (270.5, 437.6), (461.8, 637.8), (662.9, 838.4), (862.5, 1039.7)]
ROW0 = (38.9, 129.6)
ROW1 = (197.3, 303.3)
FPC_ZERO_30 = [(530.7, 404.3), (735.0, 608.3), (939.0, 812.7), (1146.0, 1017.7)]
FPC_YLIM = (-4.3, 30.4)


def add_axes_px(left, right, top, bottom):
    return fig.add_axes([left / W, 1 - bottom / H, (right - left) / W, (bottom - top) / H])


def ftext(x, y, s, **kw):
    fig.text(x / W, 1 - y / H, s, **kw)


def minimal(ax, xlim, ylim, ymajor, yminor, show_x=True, show_y=True):
    ax.set_xlim(*xlim)
    ax.set_ylim(*ylim)
    ax.set_xticks([5, 10, 15])
    ax.set_xticks([2.5, 7.5, 12.5, 17.5], minor=True)
    ax.set_yticks(ymajor)
    ax.set_yticks(yminor, minor=True)
    ax.grid(True, which="major", color=GRID, lw=1.45)
    ax.grid(True, which="minor", color=GRID, lw=0.95)
    ax.set_axisbelow(True)
    for sp in ax.spines.values():
        sp.set_visible(False)
    ax.tick_params(which="both", length=0, colors=AXTXT, labelsize=TICK_FS)
    ax.tick_params(axis="x", pad=5.5)
    ax.tick_params(axis="y", pad=4.0)
    if not show_x:
        ax.tick_params(axis="x", labelbottom=False)
    if not show_y:
        ax.tick_params(axis="y", labelleft=False)


REG_XLIM = (0.5, 18.83)
obs_age_arr = np.array(obs_age)
obs_vel_arr = np.array(obs_velocity)

# ---- observed curves
ax = add_axes_px(COLS[0][0], COLS[0][1], *ROW0)
minimal(ax, (0.56, 18.57), (-1.2, 28.9), [0, 10, 20], [5, 15, 25])
for v in obs_vel_arr:
    ax.plot(obs_age_arr, v, color="black", alpha=CURVE_ALPHA, lw=0.9)
cx = (COLS[0][0] + COLS[0][1]) / 2
ftext(cx, 26.7, "Observed curves", ha="center", va="baseline", fontsize=TITLE_FS)
ftext(cx, ROW0[1] + 36, "t* [observed]", ha="center", va="center", fontsize=LABEL_FS)
ftext(18.8, (ROW0[0] + ROW0[1]) / 2, "Derivative", ha="center", va="center",
      rotation=90, fontsize=LABEL_FS)

for j, name in enumerate(method_names):
    left, right = COLS[j + 1]
    cx = (left + right) / 2
    shifts = np.array(method_shifts[j])
    reg_time = obs_age_arr[None, :] + shifts

    # registered curves
    ax = add_axes_px(left, right, *ROW0)
    minimal(ax, REG_XLIM, (-1.2, 28.9), [0, 10, 20], [5, 15, 25], show_y=(j == 0))
    for t_reg, v in zip(reg_time, obs_vel_arr):
        ax.plot(t_reg, v, color="black", alpha=CURVE_ALPHA, lw=0.9)
    ftext(cx, 26.7, name, ha="center", va="baseline", fontsize=TITLE_FS)
    ftext(cx, ROW0[1] + 36, "t [registered]", ha="center", va="center", fontsize=LABEL_FS)

    # warping functions
    ax = add_axes_px(left, right, *ROW1)
    minimal(ax, REG_XLIM, (0.55, 18.83), [5, 10, 15], [2.5, 7.5, 12.5, 17.5], show_y=(j == 0))
    for t_reg in reg_time:
        ax.plot(obs_age_arr, t_reg, color="black", alpha=0.22, lw=0.9)
    ftext(cx, ROW1[1] + 37.5, "t* [observed]", ha="center", va="center", fontsize=LABEL_FS)

    # mean +/- FPC effects
    for k in range(4):
        y0, y30 = FPC_ZERO_30[k]
        s = (y0 - y30) / 30.0
        top = y30 - (FPC_YLIM[1] - 30) * s
        bottom = y0 + (0 - FPC_YLIM[0]) * s
        ax = add_axes_px(left, right, top, bottom)
        minimal(ax, REG_XLIM, FPC_YLIM, [0, 10, 20, 30], [5, 15, 25],
                show_x=(k == 3), show_y=(j == 0))
        ax.plot(fpc_age, method_means[j], color="black", lw=1.1, zorder=3)
        ax.plot(fpc_age, method_minus[j][k], color=BLUE, lw=1.1, zorder=4)
        ax.plot(fpc_age, method_plus[j][k], color=RED, lw=1.1, zorder=5)
        ftext(cx, top - 15, f"FPC {k + 1}", ha="center", va="baseline", fontsize=TITLE_FS)
        if k == 3:
            ftext(cx, bottom + 37.5, "t [registered]", ha="center", va="center",
                  fontsize=LABEL_FS)
        if j == 0:
            ftext(227.7, (top + bottom) / 2, "Derivative", ha="center", va="center",
                  rotation=90, fontsize=LABEL_FS)

ftext(227.7, (ROW0[0] + ROW0[1]) / 2, "Derivative", ha="center", va="center",
      rotation=90, fontsize=LABEL_FS)
ftext(227.7, (ROW1[0] + ROW1[1]) / 2, "t [registered]", ha="center", va="center",
      rotation=90, fontsize=LABEL_FS)

fig.savefig("out.png", dpi=100, facecolor="white")
